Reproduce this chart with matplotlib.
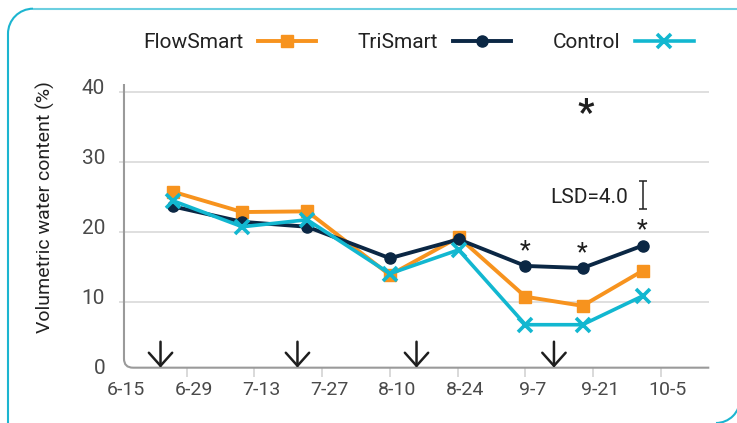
import matplotlib
matplotlib.use('Agg')
import matplotlib.pyplot as plt
from matplotlib.path import Path
from matplotlib.patches import PathPatch, Arc
from matplotlib.transforms import ScaledTranslation

plt.rcParams['font.family'] = ['Roboto', 'DejaVu Sans']

# sampling dates as days after 6-15
sample_days = [11.2, 25.5, 38.9, 56.0, 70.2, 84.0, 95.8, 108.2]
flowsmart = [25.8, 22.9, 23.0, 13.9, 19.3, 10.8, 9.5, 14.5]
trismart = [23.7, 21.5, 20.8, 16.3, 19.0, 15.2, 14.9, 18.1]
control = [24.5, 20.8, 21.8, 14.1, 17.5, 6.8, 6.8, 10.9]

# irrigation events (arrows), days after 6-15
irrigation_days = [8.6, 36.9, 61.5, 89.9]

tick_days = [0, 14, 28, 42, 56, 70, 84, 98, 112]
tick_labels = ['6-15', '6-29', '7-13', '7-27', '8-10', '8-24', '9-7', '9-21', '10-5']

# significance marks
signif_days = [84.0, 95.8, 108.2]
signif_y = [18.4, 18.05, 21.4]
big_star = (96.5, 38.5)
lsd = 4.0
lsd_center = 25.3

W, H = 737, 423
fig = plt.figure(figsize=(W / 100, H / 100), dpi=100)
# axes box in pixels: left 118.9, right 709.3, top 84, bottom 372.3
ax = fig.add_axes([118.9 / W, 1 - 372.3 / H, (709.3 - 118.9) / W, (372.3 - 84) / H])
ax.set_xlim(0, 122)
ax.set_ylim(0, 41.2)
y_axis = 0.66

c_orange = '#f7931e'
c_navy = '#0b2744'
c_cyan = '#12b7d0'

l1, = ax.plot(sample_days, flowsmart, color=c_orange, lw=2.8, marker='s', ms=9,
              label='FlowSmart', zorder=3)
l2, = ax.plot(sample_days, trismart, color=c_navy, lw=2.8, marker='o', ms=8,
              label='TriSmart', zorder=4)
l3, = ax.plot(sample_days, control, color=c_cyan, lw=2.6, marker='x', ms=10, mew=2.6,
              label='Control', zorder=5)

# grid
ax.set_yticks([0, 10, 20, 30, 40])
ax.grid(axis='y', color='#d6d6d6', lw=1.1)
ax.yaxis.get_major_ticks()[0].gridline.set_visible(False)
ax.set_axisbelow(True)

for s in ax.spines.values():
    s.set_visible(False)
ax.spines['bottom'].set_position(('data', y_axis))

ax.set_xticks(tick_days)
ax.set_xticklabels(tick_labels)
ax.xaxis.get_major_ticks()[0].tick1line.set_visible(False)
ax.tick_params(axis='x', length=6.5, width=1.1, color='#cfcfcf', pad=3,
               labelsize=14, labelcolor='#4a4a4a')
ax.tick_params(axis='y', length=0, pad=10, labelsize=15, labelcolor='#4a4a4a')

dx = ScaledTranslation(7 / 100, 0, fig.dpi_scale_trans)
for lab in ax.get_xticklabels():
    lab.set_transform(lab.get_transform() + dx)
dy = ScaledTranslation(0, 5.5 / 100, fig.dpi_scale_trans)
for lab in ax.get_yticklabels():
    lab.set_transform(lab.get_transform() + dy)

# axis line with rounded corner
x0 = 1.05
rx, ry = 1.86, 1.29
verts = [(x0, 41.2), (x0, y_axis + ry), (x0, y_axis), (x0 + rx, y_axis), (122, y_axis)]
codes = [Path.MOVETO, Path.LINETO, Path.CURVE3, Path.CURVE3, Path.LINETO]
ax.add_patch(PathPatch(Path(verts, codes), fill=False, edgecolor='#9a9a9a', lw=1.5,
                       clip_on=False, zorder=2))

# irrigation arrows
for d in irrigation_days:
    ax.annotate('', xy=(d, y_axis), xytext=(d, 4.37),
                arrowprops=dict(arrowstyle='->, head_length=0.47, head_width=0.42',
                                color='#1e1e1e', lw=1.8, mutation_scale=20,
                                shrinkA=0, shrinkB=0),
                annotation_clip=False, zorder=6)

# significance stars
fs = 18
for d, yv in zip(signif_days, signif_y):
    ax.annotate('*', xy=(d, yv), xytext=(0, -0.57 * fs), textcoords='offset points',
                ha='center', va='baseline', fontsize=fs, color='#1e1e1e')
ax.annotate('*', xy=big_star, xytext=(0, -0.57 * 26), textcoords='offset points',
            ha='center', va='baseline', fontsize=26, fontweight='bold', color='#1e1e1e')

# LSD bar
ax.errorbar([sample_days[-1]], [lsd_center], yerr=lsd / 2, fmt='none', ecolor='#222222',
            elinewidth=1.1, capsize=3, capthick=1.1)
ax.text(105.3, 25.0, 'LSD=4.0', ha='right', va='center', fontsize=15, color='#222222')

fig.text(45 / W, 1 - 207 / H, 'Volumetric water content (%)', rotation=90,
         ha='center', va='center', fontsize=14, color='#222222')

fig.legend([l1, l2, l3], ['FlowSmart', 'TriSmart', 'Control'], loc='center',
           bbox_to_anchor=(418.3 / W, 1 - 43 / H), ncol=3, frameon=False,
           markerfirst=False, handlelength=2.8, handletextpad=0.7,
           columnspacing=2.0, fontsize=15, labelcolor='#222222')

# outer frame
def fp(x, y):
    return (x / W, 1 - y / H)

k = 0.5523 * 25
left = Path([fp(8, 425), fp(8, 33.7), fp(8, 33.7 - k), fp(33 - k, 8.7), fp(33, 8.7)],
            [Path.MOVETO, Path.LINETO, Path.CURVE4, Path.CURVE4, Path.CURVE4])
fig.add_artist(PathPatch(left, transform=fig.transFigure, fill=False,
                         edgecolor='#1cb5d0', lw=1.5))
top = Path([fp(33, 8.7), fp(740, 8.7)], [Path.MOVETO, Path.LINETO])
fig.add_artist(PathPatch(top, transform=fig.transFigure, fill=False,
                         edgecolor='#6ccfe0', lw=1.5))
fig.add_artist(Arc(fp(716, 399), 48 / W, 48 / H, theta1=270, theta2=360,
                   transform=fig.transFigure, color='#1cb5d0', lw=1.5))

fig.savefig('out.png', dpi=100, facecolor='white')
